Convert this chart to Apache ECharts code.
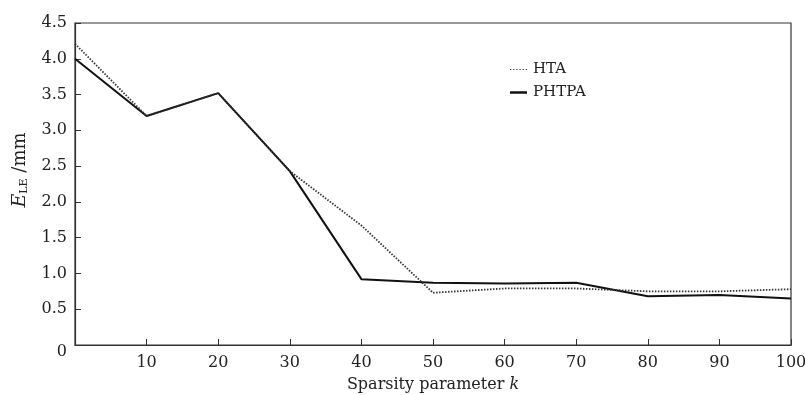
<!DOCTYPE html>
<html><head><meta charset="utf-8">
<script src="https://cdn.jsdelivr.net/npm/echarts@6/dist/echarts.min.js"></script>
<style>html,body{margin:0;padding:0;background:#fff}#c{width:805px;height:395px}</style>
</head><body><div id="c"></div>
<script>
var kValues = [0,10,20,30,40,50,60,70,80,90,100];
var htaValues = [4.21,3.20,3.52,2.43,1.67,0.73,0.79,0.79,0.75,0.75,0.78];
var phtpaValues = [4.00,3.20,3.52,2.43,0.92,0.87,0.86,0.87,0.68,0.70,0.65];
var seriesNames = ['HTA','PHTPA'];
var yTicks = [0,0.5,1.0,1.5,2.0,2.5,3.0,3.5,4.0,4.5];
var xTicks = [0,10,20,30,40,50,60,70,80,90,100];

var FONT = 'DejaVu Serif';
var chart = echarts.init(document.getElementById('c'), null, {renderer:'canvas'});
function pairs(vals){ return kValues.map(function(k,i){return [k, vals[i]];}); }
var dotted = 'path://M0,0h1.2v1h-1.2zM3,0h1.2v1h-1.2zM6,0h1.2v1h-1.2zM9,0h1.2v1h-1.2zM12,0h1.2v1h-1.2zM15,0h1.2v1h-1.2z';
chart.setOption({
  animation:false,
  backgroundColor:'#fff',
  textStyle:{fontFamily:FONT},
  grid:{left:75,right:14,top:23,bottom:50,containLabel:false,outerBoundsMode:'none',
        show:true,borderColor:'#333',borderWidth:1.2},
  legend:{
    orient:'vertical', left:505, top:57, itemWidth:17, itemHeight:2.5, itemGap:8,
    textStyle:{fontFamily:FONT, fontSize:15, color:'#222', padding:[0,0,0,1]},
    data:[{name:seriesNames[0],icon:dotted},{name:seriesNames[1],icon:'rect'}]
  },
  xAxis:{
    type:'value', min:xTicks[0], max:xTicks[xTicks.length-1], interval:10,
    name:'{n|Sparsity parameter }{i|k}', nameLocation:'middle', nameGap:32,
    nameTextStyle:{rich:{n:{fontFamily:FONT,fontSize:16,color:'#222'},i:{fontFamily:FONT,fontSize:16,fontStyle:'italic',color:'#222'}}},
    axisLine:{show:true,lineStyle:{color:'#333',width:1.2}},
    axisTick:{show:true,inside:true,length:6,lineStyle:{color:'#333'}},
    splitLine:{show:false},
    axisLabel:{fontFamily:FONT,fontSize:16,color:'#222',margin:10,
      formatter:function(v){return v===0?'':String(v);}}
  },
  yAxis:{
    type:'value', min:yTicks[0], max:yTicks[yTicks.length-1], interval:0.5,
    name:'{i|E}{s|LE}{n| /mm}', nameLocation:'middle', nameGap:45,
    nameTextStyle:{padding:[0,0,0,28],rich:{
      i:{fontFamily:FONT,fontSize:19,fontStyle:'italic',color:'#222'},
      s:{fontFamily:FONT,fontSize:11,color:'#222',padding:[9,0,0,0]},
      n:{fontFamily:FONT,fontSize:18,color:'#222'}}},
    axisLine:{show:true,lineStyle:{color:'#333',width:1.2}},
    axisTick:{show:true,inside:true,length:6,lineStyle:{color:'#333'}},
    splitLine:{show:false},
    axisLabel:{fontFamily:FONT,fontSize:16,color:'#222',margin:8,
      formatter:function(v){return v===0?'{z|0}':v.toFixed(1);},
      rich:{z:{fontFamily:FONT,fontSize:16,color:'#222',padding:[14,0,0,0]}}}
  },
  series:[
    {name:seriesNames[0],type:'line',data:pairs(htaValues),symbol:'none',
     lineStyle:{color:'#333',width:1.8,type:[1.5,1.5]},itemStyle:{color:'#333'},z:3},
    {name:seriesNames[1],type:'line',data:pairs(phtpaValues),symbol:'none',
     lineStyle:{color:'#111',width:2},itemStyle:{color:'#111'},z:2}
  ]
});
</script></body></html>
